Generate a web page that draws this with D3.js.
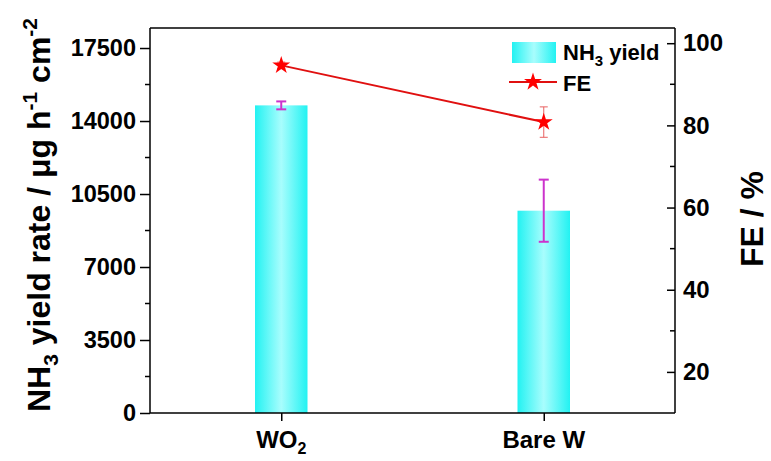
<!DOCTYPE html>
<html><head><meta charset="utf-8">
<script src="https://cdn.jsdelivr.net/npm/d3@7"></script>
<style>
html,body{margin:0;padding:0;background:#fff;}
text{font-family:"Liberation Sans",Arial,sans-serif;font-weight:bold;fill:#000;}
</style></head>
<body><svg id="c" width="771" height="461"></svg>
<script>
const categories = ["WO2", "Bare W"];
const yieldValues = [14750, 9700];
const yieldErrors = [190, 1490];
const feValues = [94.6, 80.8];
const feErrors = [0.8, 3.7];
const leftTicks = [0, 3500, 7000, 10500, 14000, 17500];
const rightTicks = [20, 40, 60, 80, 100];

const svg = d3.select("#c");
const L = 150, R = 675, T = 28, B = 413;

const defs = svg.append("defs");
const grad = defs.append("linearGradient").attr("id","cy").attr("x1","0").attr("x2","1").attr("y1","0").attr("y2","0");
grad.append("stop").attr("offset","0%").attr("stop-color","#22f2f2");
grad.append("stop").attr("offset","50%").attr("stop-color","#a8fdfd");
grad.append("stop").attr("offset","100%").attr("stop-color","#22f2f2");

const x = d3.scalePoint().domain(categories).range([L, R]).padding(0.5);
const yL = d3.scaleLinear().domain([0, 18460]).range([B, T]);
const yR = d3.scaleLinear().domain([10, 103.7]).range([B, T]);
const barW = x.step() * 0.2;

// bars
svg.selectAll("rect.bar").data(categories).enter().append("rect")
  .attr("class","bar")
  .attr("x", d => x(d) - barW/2)
  .attr("width", barW)
  .attr("y", (d,i) => yL(yieldValues[i]))
  .attr("height", (d,i) => B - yL(yieldValues[i]))
  .attr("fill","url(#cy)");

// yield error bars
const eg = svg.append("g").attr("stroke","#cc33cc").attr("stroke-width",2);
categories.forEach((c,i) => {
  const cx = x(c), t = yL(yieldValues[i]+yieldErrors[i]), b = yL(yieldValues[i]-yieldErrors[i]);
  eg.append("line").attr("x1",cx).attr("x2",cx).attr("y1",t).attr("y2",b);
  eg.append("line").attr("x1",cx-5).attr("x2",cx+5).attr("y1",t).attr("y2",t);
  eg.append("line").attr("x1",cx-5).attr("x2",cx+5).attr("y1",b).attr("y2",b);
});

// FE error bars
const fg = svg.append("g").attr("stroke","#e86060").attr("stroke-width",1);
categories.forEach((c,i) => {
  const cx = x(c), t = yR(feValues[i]+feErrors[i]), b = yR(feValues[i]-feErrors[i]);
  fg.append("line").attr("x1",cx).attr("x2",cx).attr("y1",t).attr("y2",b);
  fg.append("line").attr("x1",cx-4).attr("x2",cx+4).attr("y1",t).attr("y2",t);
  fg.append("line").attr("x1",cx-4).attr("x2",cx+4).attr("y1",b).attr("y2",b);
});

// FE line
svg.append("path")
  .attr("d", d3.line().x((d,i)=>x(categories[i])).y(d=>yR(d))(feValues))
  .attr("fill","none").attr("stroke","#e01010").attr("stroke-width",2);
const star = d3.symbol().type(d3.symbolStar).size(100);
svg.selectAll("path.star").data(feValues).enter().append("path")
  .attr("class","star")
  .attr("d", star)
  .attr("transform",(d,i)=>`translate(${x(categories[i])},${yR(d)})`)
  .attr("fill","#ff0000");

// frame
svg.append("line").attr("x1",L).attr("x2",R).attr("y1",T).attr("y2",T).attr("stroke","#000").attr("stroke-width",1.5);

// axes
const fontSize = "23.5px";
const axL = d3.axisLeft(yL).tickValues(leftTicks).tickSizeInner(10).tickSizeOuter(0).tickPadding(4).tickFormat(d3.format("d"));
const gL = svg.append("g").attr("transform",`translate(${L},0)`).call(axL);
gL.selectAll("text").style("font-size",fontSize);
const minorL = d3.range(1750, 18460, 3500);
gL.selectAll("line.minor").data(minorL).enter().append("line").attr("class","minor")
  .attr("x1",-5).attr("x2",0).attr("y1",d=>yL(d)).attr("y2",d=>yL(d)).attr("stroke","#000").attr("stroke-width",1.5);

const axR = d3.axisRight(yR).tickValues(rightTicks).tickSizeInner(-8).tickSizeOuter(0).tickPadding(8).tickFormat(d3.format("d"));
const gR = svg.append("g").attr("transform",`translate(${R},0)`).call(axR);
gR.selectAll("text").style("font-size","24px");
const minorR = [30, 50, 70, 90];
gR.selectAll("line.minor").data(minorR).enter().append("line").attr("class","minor")
  .attr("x1",-5).attr("x2",0).attr("y1",d=>yR(d)).attr("y2",d=>yR(d)).attr("stroke","#000").attr("stroke-width",1.5);

const axB = d3.axisBottom(x).tickSizeInner(8).tickSizeOuter(0).tickPadding(10).tickFormat(()=>"");
const gB = svg.append("g").attr("transform",`translate(0,${B})`).call(axB);

[gL,gR,gB].forEach(g=>{
  g.select(".domain").attr("stroke","#000").attr("stroke-width",1.5);
  g.selectAll(".tick line").attr("stroke","#000").attr("stroke-width",1.5);
  g.selectAll(".tick text").attr("fill","#000");
});
gB.select(".domain").attr("d",`M${L},0H${R}`);
gL.select(".domain").attr("d",`M0,${B}V${T}`);
gR.select(".domain").attr("d",`M0,${B}V${T}`);

// x category labels with subscript
categories.forEach(c => {
  const t = svg.append("text").attr("x", x(c)).attr("y", 448).attr("text-anchor","middle").style("font-size","24px");
  const m = c.match(/^([A-Za-z ]+?)(\d+)$/);
  if (m) {
    t.append("tspan").text(m[1]);
    t.append("tspan").attr("dy",6).style("font-size","16px").text(m[2]);
  } else t.text(c);
});

// left title
const lt = svg.append("text").attr("transform","translate(50,215) rotate(-90)").attr("text-anchor","middle").style("font-size","32px");
lt.append("tspan").text("NH");
lt.append("tspan").attr("dy",8).style("font-size","21px").text("3");
lt.append("tspan").attr("dy",-8).text(" yield rate / μg h");
lt.append("tspan").attr("dy",-13).style("font-size","21px").text("-1");
lt.append("tspan").attr("dy",13).text(" cm");
lt.append("tspan").attr("dy",-13).style("font-size","21px").text("-2");

// right title
svg.append("text").attr("transform","translate(763,219) rotate(-90)").attr("text-anchor","middle").style("font-size","32px").text("FE / %");

// legend
svg.append("rect").attr("x",512).attr("y",42).attr("width",44).attr("height",21).attr("fill","url(#cy)");
const l1 = svg.append("text").attr("x",563).attr("y",60).style("font-size","22px");
l1.append("tspan").text("NH");
l1.append("tspan").attr("dy",6).style("font-size","15px").text("3");
l1.append("tspan").attr("dy",-6).text(" yield");
svg.append("line").attr("x1",509).attr("x2",557).attr("y1",82).attr("y2",82).attr("stroke","#e01010").attr("stroke-width",2);
svg.append("path").attr("d",star).attr("transform","translate(533,82)").attr("fill","#ff0000");
svg.append("text").attr("x",563).attr("y",91).style("font-size","22px").text("FE");
</script></body></html>
